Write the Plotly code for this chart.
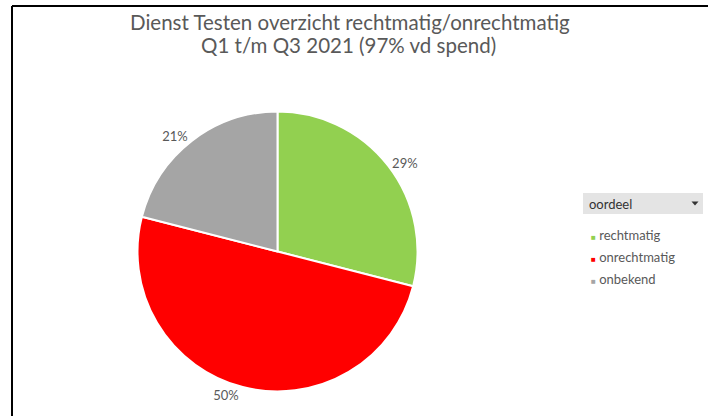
import plotly.graph_objects as go

categories = ["rechtmatig", "onrechtmatig", "onbekend"]
values = [29, 50, 21]
colors = ["#92D050", "#FF0000", "#A5A5A5"]
legend_title = "oordeel"
title_lines = ["Dienst Testen overzicht rechtmatig/onrechtmatig", "Q1 t/m Q3 2021 (97% vd spend)"]

W, H = 708, 416
FONT = "Lato, 'Open Sans', sans-serif"
TXT = "#595959"


def px(x):
    return x / W


def py(y):
    return 1 - y / H


cx, cy, half = 277.5, 251.5, 140

fig = go.Figure()
fig.add_trace(go.Pie(
    labels=categories, values=values, sort=False, direction="clockwise", rotation=0,
    marker=dict(colors=colors, line=dict(color="white", width=2)),
    textinfo="percent", textposition="outside", texttemplate="%{percent:.0%}",
    textfont=dict(family=FONT, size=13, color=TXT),
    showlegend=False, hoverinfo="label+percent",
    domain=dict(x=[px(cx - half), px(cx + half)], y=[py(cy + half), py(cy - half)]),
))

for c, col in zip(categories, colors):
    fig.add_trace(go.Scatter(
        x=[None], y=[None], mode="markers", legendgroup=c,
        name=f"<span style='color:{col};font-size:8px'>■</span> {c}",
        marker=dict(symbol="square", size=1, color="rgba(0,0,0,0)"),
    ))

fig.update_xaxes(visible=False)
fig.update_yaxes(visible=False)

shapes = [
    dict(type="line", xref="paper", yref="paper", x0=px(12), x1=1, y0=py(6), y1=py(6),
         line=dict(color="black", width=2)),
    dict(type="line", xref="paper", yref="paper", x0=px(12), x1=px(12), y0=0, y1=py(6),
         line=dict(color="black", width=2)),
    dict(type="rect", xref="paper", yref="paper", x0=px(583), x1=px(703), y0=py(214), y1=py(193),
         fillcolor="#E4E4E4", line=dict(width=0), layer="below"),
    dict(type="path", xref="paper", yref="paper",
         path=f"M {px(691.5)} {py(201.5)} L {px(698.5)} {py(201.5)} L {px(695)} {py(205.5)} Z",
         fillcolor="#333333", line=dict(width=0)),
]

annotations = [
    dict(text=title_lines[0], xref="paper", yref="paper", x=px(350), y=py(22),
         xanchor="center", yanchor="middle", showarrow=False,
         font=dict(family=FONT, size=20.5, color=TXT)),
    dict(text=title_lines[1], xref="paper", yref="paper", x=px(348), y=py(45),
         xanchor="center", yanchor="middle", showarrow=False,
         font=dict(family=FONT, size=20.5, color=TXT)),
    dict(text=legend_title, xref="paper", yref="paper", x=px(587), y=py(203.5),
         xanchor="left", yanchor="middle", showarrow=False,
         font=dict(family=FONT, size=13, color="#333333")),
]

fig.update_layout(
    width=W, height=H, margin=dict(l=0, r=0, t=0, b=0),
    paper_bgcolor="white", plot_bgcolor="white",
    shapes=shapes, annotations=annotations,
    legend=dict(x=px(551), y=py(220), xanchor="left", yanchor="top",
                font=dict(family=FONT, size=13, color=TXT), tracegroupgap=2,
                bgcolor="rgba(0,0,0,0)", itemwidth=30),
)

fig.write_html("out.html", config={"displayModeBar": False},
               post_script="document.body.style.margin='0';")
